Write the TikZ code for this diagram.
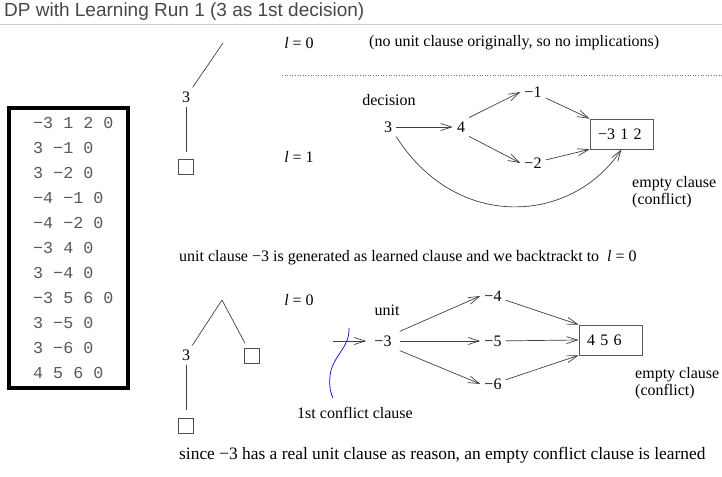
\documentclass[tikz,border=0pt]{standalone}
\usepackage{fontspec}
\setmainfont{Liberation Serif}
\setsansfont{Liberation Sans}
\setmonofont{Liberation Mono}
\usepackage{xcolor}
\usetikzlibrary{arrows.meta, positioning, calc}

\begin{document}
\begin{tikzpicture}[
  x=1pt, y=-1pt,
  font=\fontsize{16}{17}\selectfont,
  num/.style={inner sep=4pt},
  lbl/.style={inner sep=1pt},
  leaf/.style={rectangle, draw=black!70, line width=0.7pt,
               minimum width=15pt, minimum height=15pt, inner sep=0pt},
  edge/.style={draw=black!75, line width=0.7pt},
  cls/.style={rectangle, draw=black!65, line width=0.7pt, minimum height=30pt,
              text width=47pt, inner xsep=8pt, inner ysep=0pt, align=left},
  arr/.style={-{Straight Barb[length=11pt, width=7pt]}, draw=black!75, line width=0.7pt},
  note/.style={align=left, anchor=north west, inner sep=0pt}
]
\useasboundingbox (0,0) rectangle (722,476);
%% title
\node[anchor=west, inner sep=0pt, font=\sffamily\fontsize{19}{22}\selectfont, text=black!72]
    (title) at (4,12) {DP with Learning Run 1 (3 as 1st decision)};
\draw[black!20, line width=0.6pt] (0,24) -- (722,24);
%% clause list
\draw[line width=3.5pt] (9,108) rectangle (128,388);
\node[anchor=north west, align=left, inner sep=0pt, text=black!65,
      font=\ttfamily\fontsize{16.7}{25}\selectfont] (clauses) at (33,117)
    {−3 1 2 0\\3 −1 0\\3 −2 0\\−4 −1 0\\−4 −2 0\\−3 4 0\\3 −4 0\\−3 5 6 0\\3 −5 0\\3 −6 0\\4 5 6 0};
%% search tree, first run
\coordinate (t1_top) at (223,43);
\node[num]  (t1_3)    at (186,97)  {3};
\node[leaf] (t1_leaf) at (186,167) {};
\draw[edge] (t1_top) -- (t1_3);
\draw[edge, shorten >=7pt] (t1_3) -- (t1_leaf);
%% implication graph, first run
\node[lbl] (lv0_a) at (299,43) {\textit{l} = 0};
\node[lbl, anchor=west] (no_impl) at (368,43) {(no unit clause originally, so no implications)};
\draw[dotted, black!55, line width=0.6pt] (282,75) -- (722,75);
\node[lbl] (lv1) at (299,157) {\textit{l} = 1};
\node[lbl] (dec) at (389,100) {decision};
\node[num] (g1_3)  at (388,127) {3};
\node[num] (g1_4)  at (461,127) {4};
\node[num] (g1_m1) at (533,92)  {−1};
\node[num] (g1_m2) at (533,163) {−2};
\node[cls] (c1)    at (621.5,134) {−3 1 2};
\node[note] (empty1) at (632,176) {empty clause\\(conflict)};
\draw[arr] (g1_3) -- (g1_4);
\draw[arr] (g1_4.north east) -- (g1_m1.west);
\draw[arr] (g1_4.south east) -- (g1_m2.west);
\draw[arr] (g1_m1) -- (c1.north west);
\draw[arr] (g1_m2) -- (c1.south west);
\draw[arr] (g1_3.south east) .. controls +(60,95) and +(-50,75) .. (c1.south);
%% backtrack note
\node[lbl, anchor=west] (bt_note) at (178,258)
    {unit clause −3 is generated as learned clause and we backtrackt to \ \textit{l} = 0};
%% search tree, after learning
\coordinate (t2_top) at (222,300);
\node[num]  (t2_3)    at (186,355)   {3};
\node[leaf] (t2_r)    at (251.5,355.5) {};
\node[leaf] (t2_leaf) at (186,425.5) {};
\draw[edge] (t2_top) -- (t2_3);
\draw[edge, shorten >=5pt] (t2_top) -- (t2_r);
\draw[edge, shorten >=8pt] (t2_3) -- (t2_leaf);
%% implication graph, after learning
\node[lbl] (lv0_b) at (299,300) {\textit{l} = 0};
\node[lbl] (unit)  at (387,310) {unit};
\coordinate (g2_in) at (333,341);
\node[num, inner xsep=8pt] (g2_m3) at (383,341) {−3};
\node[num] (g2_m4) at (493,296) {−4};
\node[num] (g2_m5) at (493,341) {−5};
\node[num] (g2_m6) at (493,384) {−6};
\node[cls] (c2)    at (610.5,340) {4 5 6};
\node[note] (empty2) at (635,367) {empty clause\\(conflict)};
\draw[arr] (g2_in) -- (g2_m3);
\draw[arr] (g2_m3.north east) -- (g2_m4.west);
\draw[arr] (g2_m3) -- (g2_m5);
\draw[arr] (g2_m3.south east) -- (g2_m6.west);
\draw[arr] (g2_m4) -- (c2.north west);
\draw[arr] (g2_m5) -- (c2.west);
\draw[arr] (g2_m6) -- (c2.south west);
%% conflict cut
\node[lbl] (cut_lbl) at (355,413) {1st conflict clause};
\coordinate (cut_top) at (349,328);
\coordinate (cut_bot) at (333,398);
\draw[blue, line width=0.7pt] (cut_top) .. controls (350,348) and (332,356) .. (330,376)
    .. controls (329,388) and (331,394) .. (cut_bot);
%% final note
\node[lbl, anchor=west, font=\fontsize{17.4}{18}\selectfont] (final_note) at (178,455)
    {since −3 has a real unit clause as reason, an empty conflict clause is learned};
\end{tikzpicture}
\end{document}
